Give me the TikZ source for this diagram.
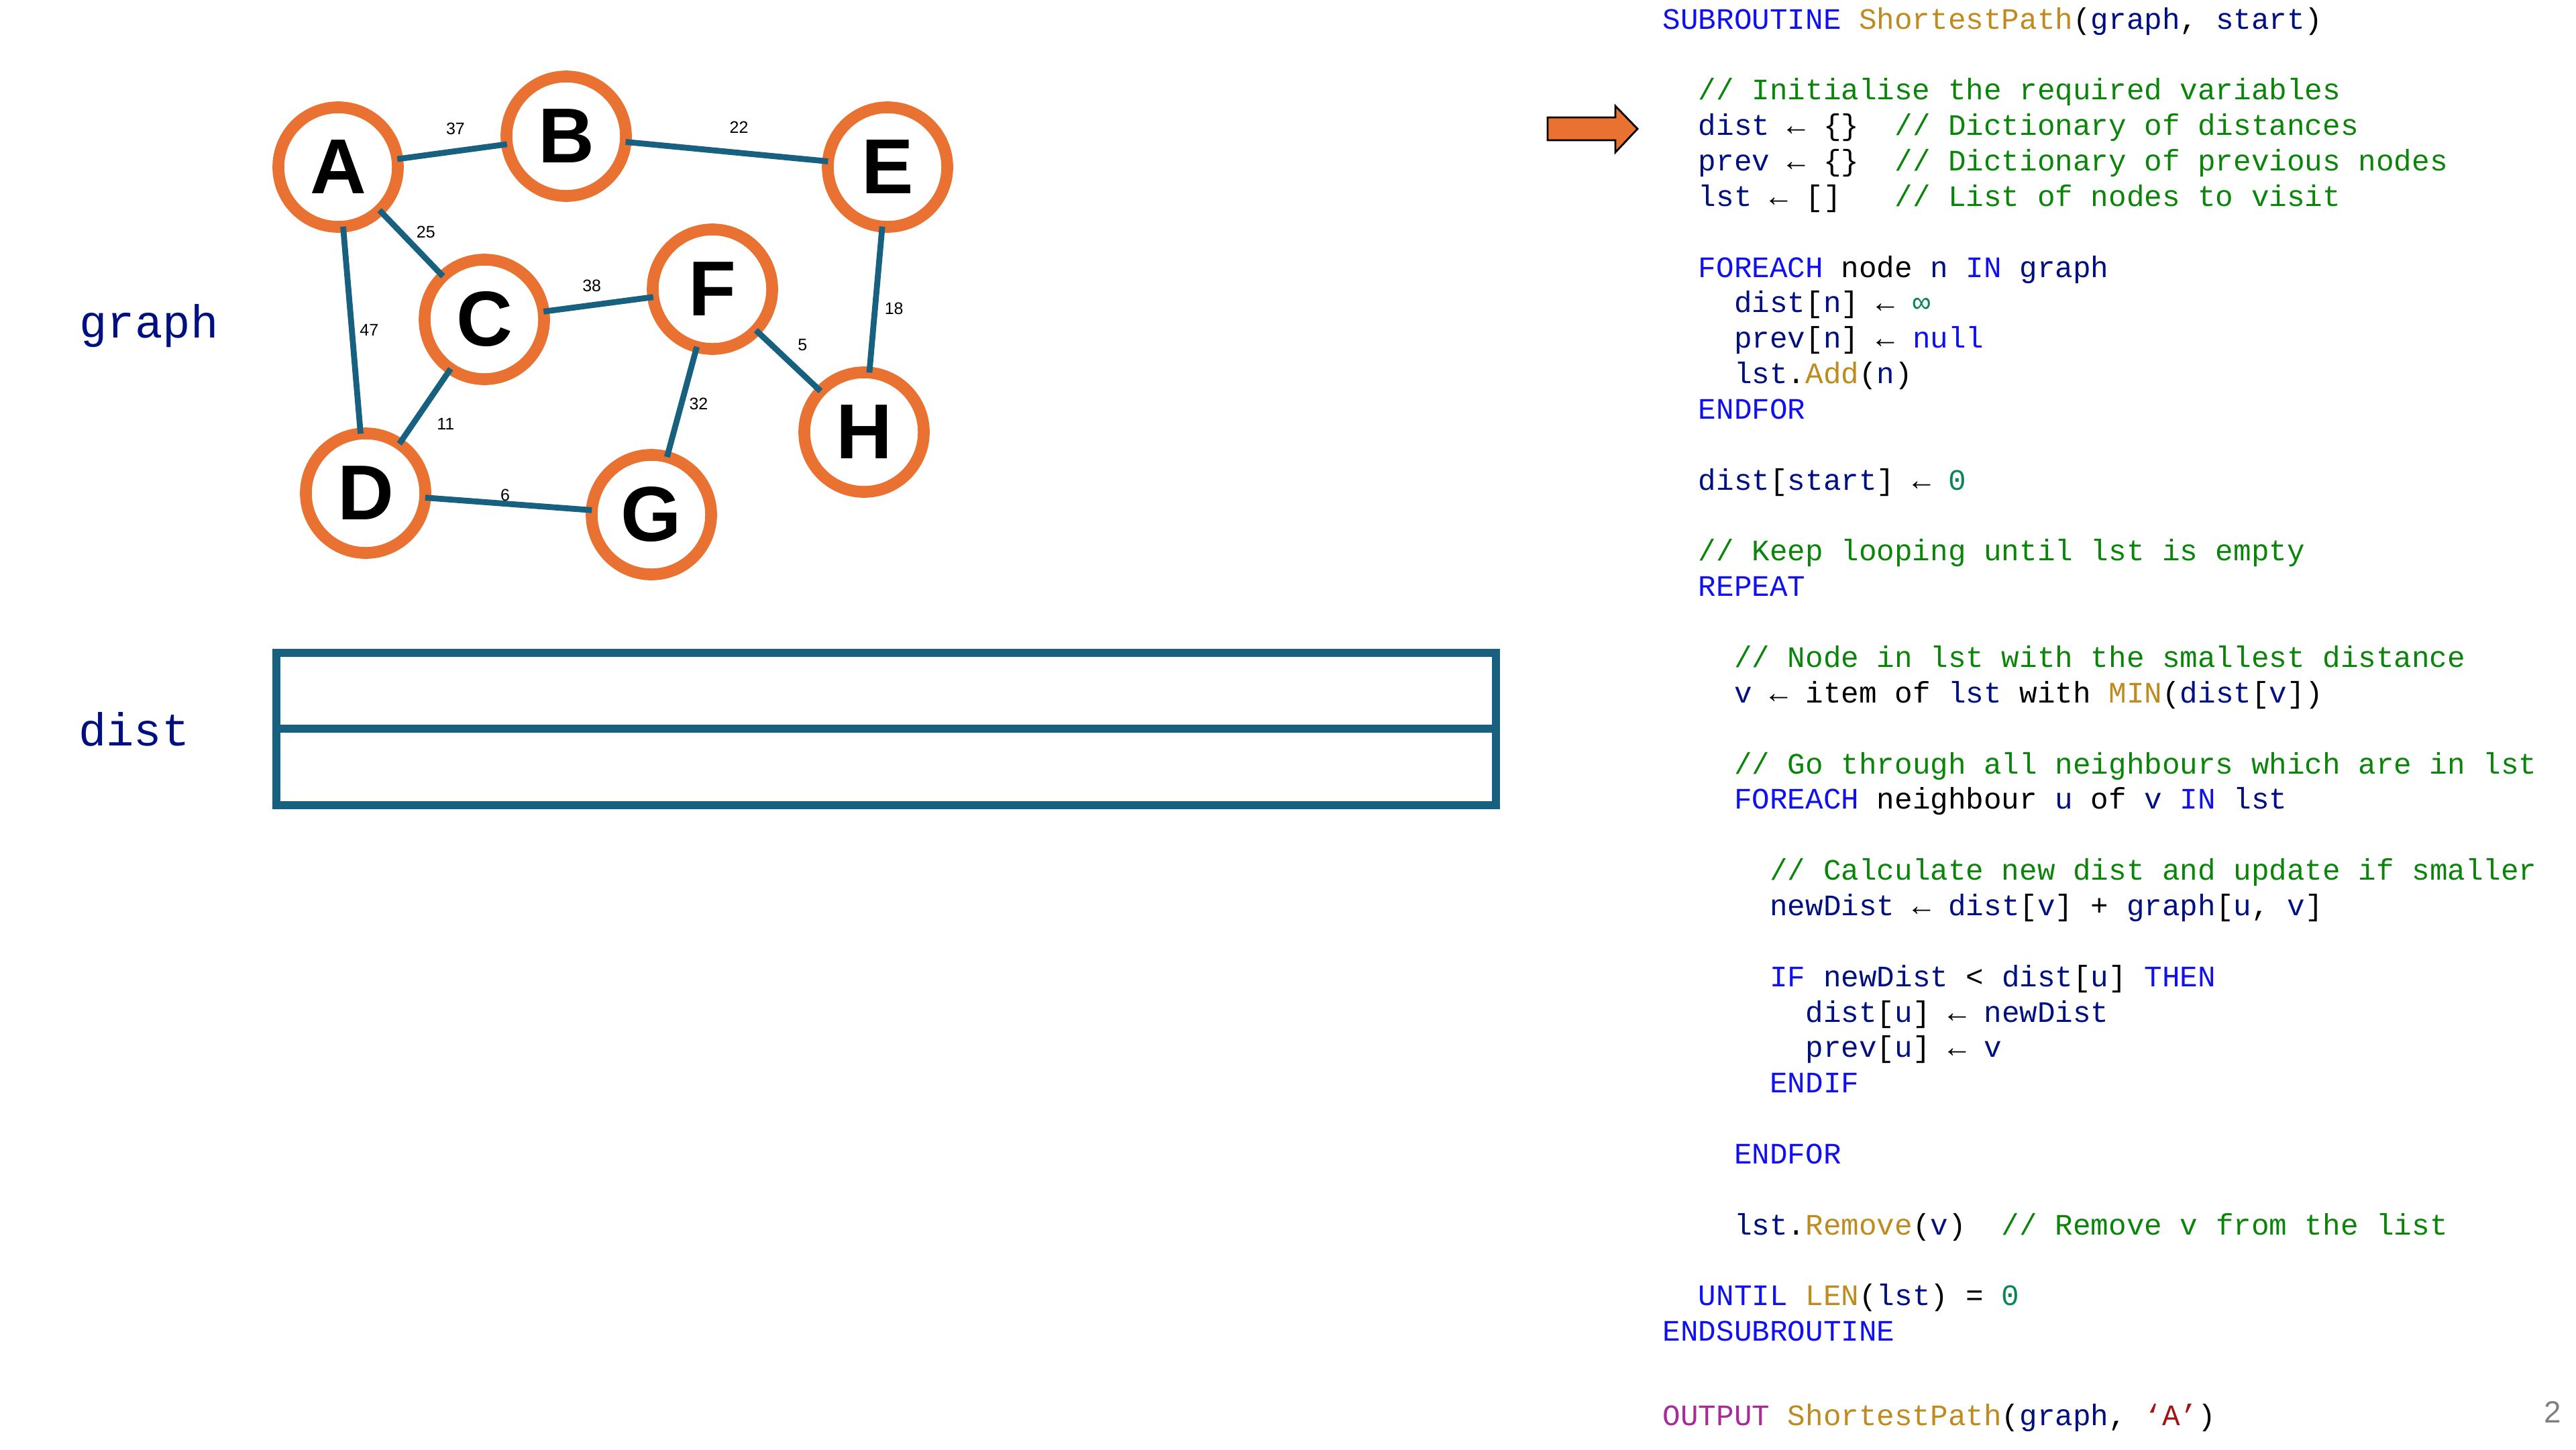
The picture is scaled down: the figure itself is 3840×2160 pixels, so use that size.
\documentclass[tikz,border=0pt]{standalone}
\usepackage{fontspec}
\setmainfont{Liberation Sans}
\setsansfont{Liberation Sans}
\setmonofont{Liberation Mono}
\usepackage{xcolor}
\usepackage{tikz}
\usetikzlibrary{positioning}
\definecolor{ring}{HTML}{E97132}
\definecolor{linkblue}{HTML}{17607F}
\definecolor{navy}{HTML}{001080}
\definecolor{kwblue}{HTML}{1010F0}
\definecolor{fngold}{HTML}{BF8B1F}
\definecolor{cmgreen}{HTML}{0A850A}
\definecolor{numteal}{HTML}{098658}
\definecolor{outpurple}{HTML}{A82C98}
\definecolor{strred}{HTML}{A31515}
\definecolor{pagegray}{HTML}{7F7F7F}
\newcommand{\kw}[1]{\textcolor{kwblue}{#1}}
\newcommand{\fnm}[1]{\textcolor{fngold}{#1}}
\newcommand{\idn}[1]{\textcolor{navy}{#1}}
\newcommand{\cmt}[1]{\textcolor{cmgreen}{#1}}
\newcommand{\num}[1]{\textcolor{numteal}{#1}}
\newcommand{\outk}[1]{\textcolor{outpurple}{#1}}
\newcommand{\str}[1]{\textcolor{strred}{#1}}
% code rows: x start, indent step, first baseline, line pitch
\def\cx{2478}
\def\ci{53.2}
\def\cy{43}
\def\cp{52.86}
\newcommand{\srcline}[3]{\node[src] (r#1) at ({\cx+#2*\ci},{\cy+#1*\cp}) {#3};}
\tikzset{
  vert/.style={circle, draw=ring, line width=5pt, fill=white, minimum size=17.8mm,
    inner sep=0pt, outer sep=0pt, font=\sffamily\bfseries\fontsize{33}{40}\selectfont},
  wire/.style={draw=linkblue, line width=2.5pt},
  wt/.style={font=\sffamily\fontsize{7.1}{8}\selectfont, inner sep=0pt},
  distbox/.style={draw=linkblue, line width=3.5pt},
  src/.style={anchor=base west, inner sep=0pt, font=\ttfamily\fontsize{12.6}{15}\selectfont},
  lbl/.style={anchor=base, inner sep=0pt, text=navy, font=\ttfamily\fontsize{19.6}{24}\selectfont},
  ptr/.style={fill=ring, draw=black, line width=0.8pt, line join=miter}
}
\begin{document}
\begin{tikzpicture}[x=0.01cm, y=-0.01cm]
  \useasboundingbox (0,0) rectangle (3840,2160);

  % graph
  \node[vert] (A) at (504,249) {A};
  \node[vert] (B) at (844,203) {B};
  \node[vert] (E) at (1323,249) {E};
  \node[vert] (C) at (722,476) {C};
  \node[vert] (F) at (1062,431) {F};
  \node[vert] (H) at (1288,644) {H};
  \node[vert] (D) at (545,735) {D};
  \node[vert] (G) at (971,767) {G};

  \draw[wire] (A) -- node[wt, pos=0.53, above=2mm] {37} (B);
  \draw[wire] (B) -- node[wt, pos=0.56, above=2.5mm] {22} (E);
  \draw[wire] (A) -- node[wt, pos=0.5, above right=0.5mm] {25} (C);
  \draw[wire] (A) -- node[wt, pos=0.5, right=0.75mm] {47} (D);
  \draw[wire] (C) -- node[wt, pos=0.44, above=1.6mm] {38} (F);
  \draw[wire] (E) -- node[wt, pos=0.56, right=1mm] {18} (H);
  \draw[wire] (F) -- node[wt, pos=0.5, above right=1.4mm] {5} (H);
  \draw[wire] (F) -- node[wt, pos=0.52, right=0.75mm] {32} (G);
  \draw[wire] (C) -- node[wt, pos=0.5, below right=1.9mm] {11} (D);
  \draw[wire] (D) -- node[wt, pos=0.48, above] {6} (G);

  \node[lbl] (glbl) at (222,503) {graph};
  \node[lbl] (dlbl) at (200,1111) {dist};

  % dist table
  \draw[distbox] (412,973) rectangle (2230,1200);
  \draw[distbox] (412,1086) -- (2230,1086);

  % current line marker
  \draw[ptr] (2307,175) -- (2408,175) -- (2408,158) -- (2441,192)
    -- (2408,227) -- (2408,209) -- (2307,209) -- cycle;

  % pseudocode
  \srcline{0}{0}{\kw{SUBROUTINE} \fnm{ShortestPath}(\idn{graph}, \idn{start})}
  \srcline{2}{1}{\cmt{// Initialise the required variables}}
  \srcline{3}{1}{\idn{dist} ← \{\}~~\cmt{// Dictionary of distances}}
  \srcline{4}{1}{\idn{prev} ← \{\}~~\cmt{// Dictionary of previous nodes}}
  \srcline{5}{1}{\idn{lst} ← []~~~\cmt{// List of nodes to visit}}
  \srcline{7}{1}{\kw{FOREACH} node \idn{n} \kw{IN} \idn{graph}}
  \srcline{8}{2}{\idn{dist}[\idn{n}] ← \num{∞}}
  \srcline{9}{2}{\idn{prev}[\idn{n}] ← \kw{null}}
  \srcline{10}{2}{\idn{lst}.\fnm{Add}(\idn{n})}
  \srcline{11}{1}{\kw{ENDFOR}}
  \srcline{13}{1}{\idn{dist}[\idn{start}] ← \num{0}}
  \srcline{15}{1}{\cmt{// Keep looping until lst is empty}}
  \srcline{16}{1}{\kw{REPEAT}}
  \srcline{18}{2}{\cmt{// Node in lst with the smallest distance}}
  \srcline{19}{2}{\idn{v} ← item of \idn{lst} with \fnm{MIN}(\idn{dist}[\idn{v}])}
  \srcline{21}{2}{\cmt{// Go through all neighbours which are in lst}}
  \srcline{22}{2}{\kw{FOREACH} neighbour \idn{u} of \idn{v} \kw{IN} \idn{lst}}
  \srcline{24}{3}{\cmt{// Calculate new dist and update if smaller}}
  \srcline{25}{3}{\idn{newDist} ← \idn{dist}[\idn{v}] + \idn{graph}[\idn{u}, \idn{v}]}
  \srcline{27}{3}{\kw{IF} \idn{newDist} < \idn{dist}[\idn{u}] \kw{THEN}}
  \srcline{28}{4}{\idn{dist}[\idn{u}] ← \idn{newDist}}
  \srcline{29}{4}{\idn{prev}[\idn{u}] ← \idn{v}}
  \srcline{30}{3}{\kw{ENDIF}}
  \srcline{32}{2}{\kw{ENDFOR}}
  \srcline{34}{2}{\idn{lst}.\fnm{Remove}(\idn{v})~~\cmt{// Remove v from the list}}
  \srcline{36}{1}{\kw{UNTIL} \fnm{LEN}(\idn{lst}) = \num{0}}
  \srcline{37}{0}{\kw{ENDSUBROUTINE}}

  \node[src] (out) at (2478,2124) {\outk{OUTPUT} \fnm{ShortestPath}(\idn{graph}, \str{‘A’})};

  \node[anchor=base, inner sep=0pt, text=pagegray, font=\sffamily\fontsize{13}{15}\selectfont] (pg) at (3805,2120) {2};
\end{tikzpicture}
\end{document}
